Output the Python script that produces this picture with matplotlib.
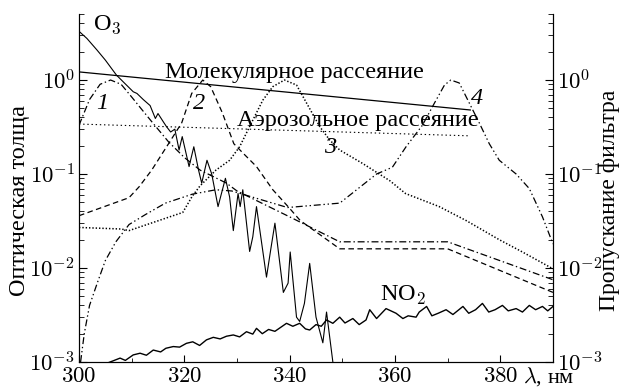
import numpy as np
import matplotlib
matplotlib.use("Agg")
import matplotlib.pyplot as plt
from matplotlib.ticker import FixedLocator, FuncFormatter, NullFormatter

plt.rcParams['font.family'] = ['Liberation Serif', 'DejaVu Serif']
plt.rcParams['mathtext.fontset'] = 'cm'
plt.rcParams['lines.scale_dashes'] = False

o3_wl = [300.0, 301.5, 303.4, 305.0, 307.1, 308.7, 310.3, 311.0, 312.2, 313.5,
         314.5, 315.0, 316.0, 316.6, 317.4, 318.2, 319.0, 319.6, 320.9, 321.8,
         322.7, 323.3, 324.3, 325.2, 326.4, 327.8, 328.6, 329.3, 330.2, 330.6,
         331.1, 332.4, 333.0, 333.7, 335.6, 336.5, 337.2, 338.8, 339.7, 340.1,
         341.3, 341.9, 342.8, 343.8, 345.0, 346.3, 347.0, 348.2, 348.6]
o3_tau = [3.3, 2.77, 2.09, 1.63, 1.13, 0.92, 0.75, 0.72, 0.62, 0.535,
          0.39, 0.44, 0.36, 0.32, 0.28, 0.30, 0.18, 0.25, 0.12, 0.195,
          0.11, 0.08, 0.14, 0.10, 0.045, 0.09, 0.057, 0.025, 0.062, 0.045,
          0.068, 0.015, 0.0215, 0.045, 0.008, 0.017, 0.03, 0.0055, 0.0069, 0.0148,
          0.003, 0.0027, 0.0042, 0.0112, 0.003, 0.0016, 0.0034, 0.001, 0.0007]

# NO2 optical depth
no2_wl = [305.5, 306.5, 307.8, 308.8, 310.3, 311.6, 312.8, 314.1, 315.5, 316.5,
          317.9, 319.1, 320.4, 321.6, 322.9, 324.2, 325.5, 326.8, 328.0, 329.3,
          330.5, 331.8, 333.0, 333.7, 334.8, 336.0, 337.2, 338.5, 339.4, 340.6,
          341.9, 343.0, 343.8, 345.0, 346.0, 347.0, 348.2, 349.5, 350.5, 352.0,
          353.2, 354.5, 355.2, 356.5, 358.3, 360.2, 361.5, 362.5, 364.0, 364.6,
          366.0, 367.0, 368.2, 369.7, 371.0, 372.9, 374.0, 375.3, 376.6, 377.8,
          379.0, 380.4, 381.5, 383.0, 384.2, 385.5, 386.7, 388.0, 389.0, 390.0]
no2_tau = [0.00098, 0.00103, 0.0011, 0.00104, 0.00119, 0.00124, 0.00118, 0.00134, 0.00128, 0.0014,
           0.00146, 0.00144, 0.00158, 0.00164, 0.0015, 0.00172, 0.00183, 0.00176, 0.00188, 0.00194,
           0.00185, 0.0021, 0.00198, 0.00228, 0.002, 0.00222, 0.00212, 0.00238, 0.00258, 0.0024,
           0.00258, 0.00225, 0.00219, 0.0025, 0.0024, 0.0028, 0.00258, 0.0030, 0.0026, 0.0029,
           0.0025, 0.0028, 0.0036, 0.0029, 0.0037, 0.0033, 0.0029, 0.0031, 0.003, 0.0034,
           0.0039, 0.0031, 0.0033, 0.0036, 0.0032, 0.0039, 0.0033, 0.0036, 0.0042, 0.0034,
           0.0036, 0.0040, 0.0035, 0.0037, 0.0034, 0.0040, 0.0036, 0.0039, 0.0035, 0.0039]

# scattering (straight lines in log scale)
mol_wl = [300.0, 374.3]
mol_tau = [1.22, 0.48]
aer_wl = [300.0, 374.0]
aer_tau = [0.34, 0.255]

# filter transmissions
f1_wl = [300, 302, 304, 306, 308, 310, 312, 314, 317, 320, 323, 328, 330, 340, 349.5, 370, 390]
f1_t = [0.33, 0.62, 0.9, 1.0, 0.9, 0.66, 0.48, 0.35, 0.22, 0.15, 0.11, 0.08, 0.066, 0.035, 0.019, 0.019, 0.0075]

f2_wl = [300, 309.5, 311.4, 313.8, 317, 319.5, 321.4, 323.5, 325, 327.2, 329.4, 331, 333.7, 336.8,
         339.7, 342, 349.5, 370, 390]
f2_t = [0.036, 0.056, 0.073, 0.11, 0.21, 0.35, 0.72, 1.0, 0.85, 0.45, 0.21, 0.17, 0.12, 0.068,
        0.045, 0.032, 0.016, 0.016, 0.0055]

f3_wl = [300, 308, 309.5, 319.7, 321.5, 323, 326, 328.6, 330.5, 332.4, 334.9, 336.8, 339, 341.3,
         343.2, 345.7, 347.6, 349.5, 353.8, 359, 362, 368.4, 373.5, 379.8, 384.2, 390]
f3_t = [0.027, 0.026, 0.025, 0.039, 0.058, 0.075, 0.11, 0.14, 0.195, 0.32, 0.61, 0.85, 1.0, 0.885,
        0.57, 0.32, 0.23, 0.18, 0.13, 0.085, 0.062, 0.045, 0.032, 0.02, 0.0148, 0.0098]

f4_wl = [300.3, 301, 302, 303.5, 305, 307, 309.5, 312.6, 316.4, 321.5, 326, 329, 339.6, 349.5,
         356.5, 359.5, 362.1, 365.2, 367.5, 369.4, 370.6, 372.2, 374.1, 376, 377.9, 379.8,
         383, 385.5, 388, 390]
f4_t = [0.001, 0.002, 0.004, 0.007, 0.012, 0.019, 0.029, 0.037, 0.049, 0.061, 0.068, 0.066, 0.044, 0.049,
        0.10, 0.118, 0.195, 0.33, 0.57, 0.885, 1.0, 0.93, 0.57, 0.35, 0.21, 0.14,
        0.10, 0.07, 0.035, 0.018]

xticks = [300, 320, 340, 360, 380]
ylims = (1e-3, 5.04)
fs = 17.5      # text labels
tfs = 16.5     # tick labels

fig = plt.figure(figsize=(6.21, 3.89), dpi=100)
ax = fig.add_axes([79 / 621, 1 - 362 / 389, 474 / 621, 348 / 389])

ax.plot(o3_wl, o3_tau, color='black', lw=0.8)
ax.plot(no2_wl, no2_tau, color='black', lw=1.0)
ax.plot(mol_wl, mol_tau, color='black', lw=0.9)
ax.plot(aer_wl, aer_tau, color='black', lw=0.8, linestyle=(0, (1, 2)))
ax.plot(f1_wl, f1_t, color='black', lw=0.9, linestyle=(0, (5, 2, 1, 2)))
ax.plot(f2_wl, f2_t, color='black', lw=0.9, linestyle=(0, (4, 2.5)))
ax.plot(f3_wl, f3_t, color='black', lw=1.1, linestyle=(0, (1, 1.4)))
ax.plot(f4_wl, f4_t, color='black', lw=0.9, linestyle=(0, (5, 2, 1, 2, 1, 2)))

ax.set_yscale('log')
ax.set_xlim(300, 390)
ax.set_ylim(*ylims)
ax.spines['top'].set_visible(False)

ax.xaxis.set_major_locator(FixedLocator(xticks))
ax.xaxis.set_minor_locator(FixedLocator([310, 330, 350, 370]))
ax.xaxis.set_major_formatter(FuncFormatter(lambda v, p: r'$%d$' % v))
ax.tick_params(axis='x', which='both', direction='in', top=False, labelsize=tfs)
ax.tick_params(axis='x', which='major', length=5, pad=3)
ax.tick_params(axis='x', which='minor', length=3)

logfmt = FuncFormatter(lambda v, p: r'$10^{%d}$' % round(np.log10(v)))
ax.yaxis.set_major_locator(FixedLocator([1e-3, 1e-2, 1e-1, 1e0]))
ax.yaxis.set_major_formatter(logfmt)
ax.yaxis.set_minor_formatter(NullFormatter())
ax.tick_params(axis='y', which='both', direction='in', labelsize=tfs)
ax.tick_params(axis='y', which='major', length=6, pad=3)
ax.tick_params(axis='y', which='minor', length=3.5)

ax2 = ax.twinx()
ax2.set_yscale('log')
ax2.set_ylim(*ylims)
ax2.spines['top'].set_visible(False)
ax2.yaxis.set_major_locator(FixedLocator([1e-3, 1e-2, 1e-1, 1e0]))
ax2.yaxis.set_major_formatter(logfmt)
ax2.yaxis.set_minor_formatter(NullFormatter())
ax2.tick_params(axis='y', which='both', direction='in', labelsize=tfs)
ax2.tick_params(axis='y', which='major', length=6, pad=3)
ax2.tick_params(axis='y', which='minor', length=3.5)

fig.text(20 / 621, 1 - 200 / 389, 'Оптическая толща', rotation=90, fontsize=fs,
         ha='center', va='center')
fig.text(610 / 621, 1 - 200 / 389, 'Пропускание фильтра', rotation=90, fontsize=17,
         ha='center', va='center')
fig.text(523 / 621, 1 - 377 / 389, r'$\lambda$, нм', fontsize=16, ha='left', va='center')

ax.text(0.03, 0.968, r'O$_3$', transform=ax.transAxes, fontsize=fs, va='center')
ax.text(0.181, 0.833, 'Молекулярное рассеяние', transform=ax.transAxes, fontsize=fs, va='center')
ax.text(0.333, 0.695, 'Аэрозольное рассеяние', transform=ax.transAxes, fontsize=fs, va='center')
ax.text(0.635, 0.19, r'NO$_2$', transform=ax.transAxes, fontsize=fs, va='center')
for lab, xf, yf in [('1', 0.0485, 0.744), ('2', 0.253, 0.744), ('3', 0.53, 0.615), ('4', 0.84, 0.756)]:
    ax.text(xf, yf, lab, transform=ax.transAxes, fontsize=fs, style='italic', va='center', ha='center')

fig.savefig('out.png', dpi=100)
